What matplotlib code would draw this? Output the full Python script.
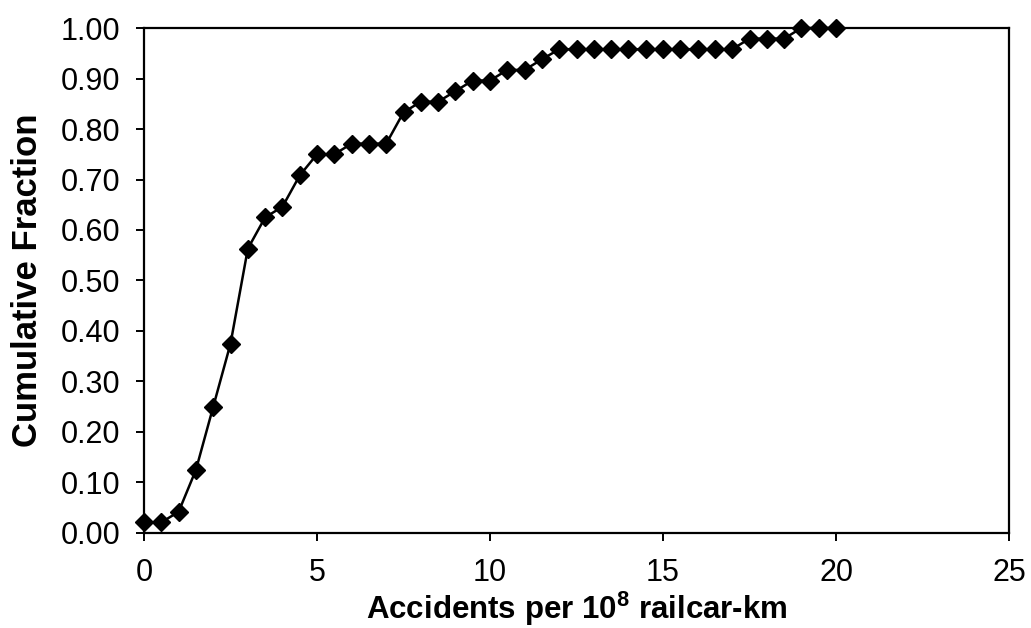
"""
Cumulative distribution of accident rates per 10^8 railcar-km.
Excel-style line chart with diamond markers, boxed frame.
"""
import matplotlib
matplotlib.use("Agg")
import matplotlib.pyplot as plt
from matplotlib.ticker import FormatStrFormatter, MultipleLocator

INK = "#000000"

plt.rcParams.update({
    "font.family": ["Liberation Sans", "DejaVu Sans"],
    "font.size": 22,
})

# accident rate bins (per 10^8 railcar-km)
rate = [0.0, 0.5, 1.0, 1.5, 2.0, 2.5, 3.0, 3.5, 4.0, 4.5,
        5.0, 5.5, 6.0, 6.5, 7.0, 7.5, 8.0, 8.5, 9.0, 9.5,
        10.0, 10.5, 11.0, 11.5, 12.0, 12.5, 13.0, 13.5, 14.0, 14.5,
        15.0, 15.5, 16.0, 16.5, 17.0, 17.5, 18.0, 18.5, 19.0, 19.5, 20.0]

# cumulative fraction
cum_frac = [0.021, 0.021, 0.042, 0.125, 0.250, 0.375, 0.563, 0.625, 0.646, 0.708,
            0.750, 0.750, 0.771, 0.771, 0.771, 0.833, 0.854, 0.854, 0.875, 0.896,
            0.896, 0.917, 0.917, 0.938, 0.958, 0.958, 0.958, 0.958, 0.958, 0.958,
            0.958, 0.958, 0.958, 0.958, 0.958, 0.979, 0.979, 0.979, 1.000, 1.000, 1.000]

fig = plt.figure(figsize=(10.31, 6.28), dpi=100)
ax = fig.add_axes([0.1397, 0.1513, 0.8390, 0.8041])

ax.plot(rate, cum_frac, color=INK, linewidth=1.8, marker="D",
        markersize=9, markerfacecolor=INK, markeredgecolor=INK,
        clip_on=False, zorder=5)

ax.set_xlim(0, 25)
ax.set_ylim(0, 1.0)
ax.xaxis.set_major_locator(MultipleLocator(5))
ax.yaxis.set_major_locator(MultipleLocator(0.1))
ax.yaxis.set_major_formatter(FormatStrFormatter("%.2f"))

for sp in ax.spines.values():
    sp.set_linewidth(1.6)
    sp.set_color(INK)

ax.tick_params(axis="both", direction="out", length=6, width=1.4,
               colors=INK, labelsize=22)
ax.tick_params(axis="x", pad=12)
ax.tick_params(axis="y", pad=11)

ax.set_xlabel(r"Accidents per 10$^{\mathregular{8}}$ railcar-km",
              fontsize=22.5, fontweight="bold", labelpad=1)
ax.set_ylabel("Cumulative Fraction", fontsize=25, fontweight="bold",
              labelpad=12)

fig.savefig("out.png", dpi=100, facecolor="white")
